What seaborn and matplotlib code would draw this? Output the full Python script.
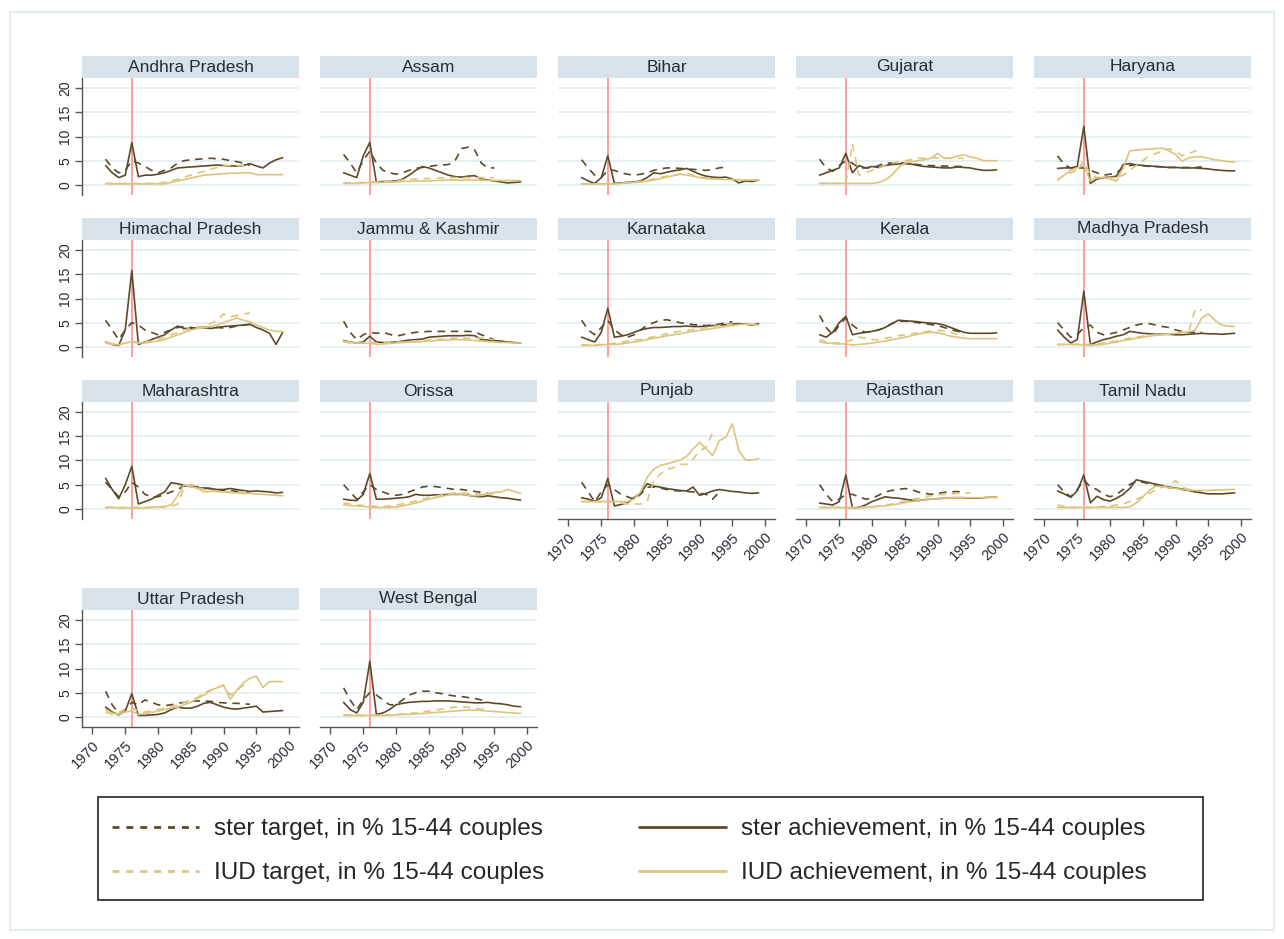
import numpy as np
import pandas as pd
import matplotlib
matplotlib.use("Agg")
import matplotlib.pyplot as plt
import seaborn as sns
from matplotlib.lines import Line2D
from matplotlib.patches import Rectangle

years = list(range(1972, 2000))

states = ["Andhra Pradesh", "Assam", "Bihar", "Gujarat", "Haryana",
          "Himachal Pradesh", "Jammu & Kashmir", "Karnataka", "Kerala", "Madhya Pradesh",
          "Maharashtra", "Orissa", "Punjab", "Rajasthan", "Tamil Nadu",
          "Uttar Pradesh", "West Bengal"]

series_labels = ["ster target, in % 15-44 couples",
                 "ster achievement, in % 15-44 couples",
                 "IUD target, in % 15-44 couples",
                 "IUD achievement, in % 15-44 couples"]

ster_target = {
    "Andhra Pradesh": [5.3, 3.5, 2.5, 3, 5, 4.5, 3.8, 3, 2.5, 3, 3.5, 4.5, 5, 5.2, 5.3, 5.4, 5.5, 5.4, 5.3, 5, 4.8, 4.5, 4.0],
    "Assam": [6.3, 4.5, 2.5, 5, 7, 4.5, 3, 2.5, 2.2, 2.5, 3, 3.4, 3.6, 3.8, 4, 4.1, 4.2, 5, 7.5, 7.8, 7.2, 4.5, 3.5, 3.5],
    "Bihar": [5.2, 3.5, 2.0, 1.5, 3, 3, 2.5, 2.2, 2.0, 2.2, 2.5, 3.0, 3.3, 3.5, 3.5, 3.4, 3.3, 3.2, 3.1, 3.0, 3.2, 3.5, 3.7],
    "Gujarat": [5.3, 3.5, 2.8, 4, 5, 4.5, 3.5, 3.5, 3.5, 4.0, 4.5, 4.5, 4.6, 4.5, 4.3, 4.2, 4.0, 4.0, 3.9, 3.9, 3.8, 3.8, 3.8],
    "Haryana": [6.0, 4.2, 3.5, 3.5, 3.5, 3.0, 2.5, 2.0, 2.2, 2.5, 3.5, 4.0, 4.2, 4.0, 3.8, 3.8, 3.7, 3.6, 3.6, 3.6, 3.6, 3.6, 3.7],
    "Himachal Pradesh": [5.5, 3.5, 1.5, 3.5, 5, 4.5, 3.5, 3.0, 2.5, 3, 3.5, 4, 4.2, 4.0, 3.8, 4.0, 4.1, 4.0, 3.9, 4.0, 4.3, 4.5, 4.6],
    "Jammu & Kashmir": [5.3, 3, 1.5, 2.5, 3, 2.8, 3, 2.6, 2.2, 2.5, 2.8, 3.0, 3.1, 3.2, 3.2, 3.2, 3.2, 3.2, 3.2, 3.2, 3.1, 2.5, 2.0, 1.5],
    "Karnataka": [5.5, 3.5, 2.5, 4, 5.5, 3.5, 2.5, 2.0, 2.5, 3.5, 4.5, 5.0, 5.5, 5.6, 5.3, 5.0, 4.8, 4.6, 4.5, 4.4, 4.5, 4.7, 5.0, 5.2],
    "Kerala": [6.5, 4, 2.5, 4.5, 6, 4.5, 3.5, 3.0, 3.2, 3.5, 4.0, 4.8, 5.3, 5.3, 5.2, 5.0, 4.8, 4.6, 4.4, 4.0, 3.6, 3.2, 3.0],
    "Madhya Pradesh": [5, 3.5, 2, 2.5, 4, 4.5, 3.0, 2.5, 2.7, 3.0, 3.5, 4.0, 4.5, 4.8, 4.8, 4.5, 4.2, 4.0, 3.5, 3.2, 3.0, 3.0, 3.0],
    "Maharashtra": [5.5, 4, 2.5, 3.5, 5.5, 4.5, 3, 2.5, 2.5, 3, 3.5, 4, 4.8, 4.8, 4.5, 4.3, 4.2, 4.0, 3.8, 3.8, 3.6, 3.5, 3.5],
    "Orissa": [5, 3.5, 2, 3.5, 5, 4, 3.5, 3.0, 2.8, 3.0, 3.5, 4.0, 4.5, 4.7, 4.6, 4.4, 4.2, 4.0, 4.0, 3.8, 3.6, 3.4, 3.2],
    "Punjab": [5.5, 3.5, 1.5, 3.5, 5, 4, 3.0, 2.5, 2.0, 3.0, 4.5, 4.5, 4.3, 4.0, 3.8, 3.7, 3.6, 3.5, 3.2, 3.0, 2.0, 3.5],
    "Rajasthan": [5, 3, 1.5, 2, 3, 3, 2.5, 2.0, 2.2, 2.8, 3.5, 3.8, 4.0, 4.2, 4.0, 3.5, 3.2, 3.0, 3.2, 3.4, 3.5, 3.6, 3.3],
    "Tamil Nadu": [5, 3.5, 2.5, 4, 6, 4.5, 4, 3.0, 2.5, 3.0, 4.0, 5.0, 5.7, 5.5, 5.2, 4.9, 4.6, 4.4, 4.2, 4.0, 3.8, 3.6, 3.5],
    "Uttar Pradesh": [5.3, 2.5, 0.8, 1.5, 3.0, 2.5, 3.5, 3.0, 2.5, 2.3, 2.5, 2.8, 3.0, 3.2, 3.3, 3.3, 3.2, 3.0, 2.9, 2.8, 2.8, 2.7, 2.6],
    "West Bengal": [6, 3.5, 1.5, 3.5, 5, 4.5, 3.5, 2.5, 2.5, 3.5, 4.5, 5.0, 5.3, 5.3, 5.0, 4.8, 4.5, 4.3, 4.2, 4.0, 3.8, 3.5, 3.4],
}

ster_achievement = {
    "Andhra Pradesh": [4, 2.5, 1.5, 2, 8.7, 1.7, 2, 2, 2.2, 2.5, 3, 3.5, 3.6, 3.7, 3.8, 3.9, 4.0, 4.1, 4.0, 3.9, 3.9, 4.0, 4.4, 3.9, 3.5, 4.5, 5.2, 5.6],
    "Assam": [2.5, 2, 1.5, 6, 8.8, 0.5, 0.7, 0.7, 0.8, 1.2, 2, 3, 3.8, 3.5, 3, 2.5, 2, 1.7, 1.6, 1.8, 1.9, 1.2, 1.0, 0.8, 0.6, 0.4, 0.5, 0.6],
    "Bihar": [1.5, 0.8, 0.3, 1.5, 6, 0.3, 0.4, 0.5, 0.6, 0.8, 1.5, 2.5, 2.3, 2.6, 2.9, 3.1, 3.4, 2.8, 2.2, 1.8, 1.6, 1.5, 1.6, 1.2, 0.4, 0.8, 0.7, 1.0],
    "Gujarat": [2, 2.5, 3, 3.5, 6.5, 2.5, 4, 3.5, 3.8, 3.6, 4.0, 4.2, 4.3, 4.4, 4.3, 4.0, 3.8, 3.7, 3.6, 3.5, 3.5, 3.7, 3.6, 3.5, 3.2, 3.0, 3.0, 3.1],
    "Haryana": [3.4, 3.5, 3.5, 3.8, 12.1, 0.3, 1.2, 1.5, 1.6, 1.8, 4.2, 4.4, 4.1, 4.0, 3.9, 3.8, 3.7, 3.6, 3.6, 3.5, 3.5, 3.5, 3.4, 3.3, 3.1, 3.0, 2.9, 2.9],
    "Himachal Pradesh": [1, 0.5, 0.3, 3.5, 15.8, 0.5, 1, 1.5, 2, 2.5, 3.5, 4.3, 3.8, 3.8, 4.0, 4.0, 3.8, 4.0, 4.2, 4.3, 4.4, 4.5, 4.7, 4.0, 3.5, 2.8, 0.5, 3.0],
    "Jammu & Kashmir": [1.3, 1.0, 0.8, 1.0, 2.2, 1.0, 0.9, 0.9, 1.0, 1.2, 1.4, 1.5, 1.6, 2.0, 2.1, 2.2, 2.3, 2.3, 2.3, 2.4, 2.3, 1.5, 1.4, 1.3, 1.2, 1.0, 0.9, 0.8],
    "Karnataka": [2, 1.5, 1, 3, 8, 2, 2.2, 2.5, 3, 3.5, 3.8, 4.0, 4.0, 4.1, 4.2, 4.2, 4.3, 4.2, 4.2, 4.3, 4.4, 4.5, 4.6, 4.7, 4.8, 4.7, 4.5, 4.8],
    "Kerala": [2.5, 2, 3, 5, 6.3, 2.5, 2.8, 3.0, 3.2, 3.5, 4.0, 4.8, 5.5, 5.4, 5.3, 5.2, 5.0, 4.9, 4.8, 4.5, 4.0, 3.5, 3.0, 2.8, 2.8, 2.8, 2.8, 2.9],
    "Madhya Pradesh": [3.5, 2, 0.8, 1.5, 11.5, 0.5, 1, 1.5, 1.8, 2.2, 2.5, 3.2, 3.0, 2.8, 2.7, 2.6, 2.6, 2.6, 2.5, 2.5, 2.6, 2.7, 2.8, 2.7, 2.7, 2.6, 2.7, 2.8],
    "Maharashtra": [6.3, 4, 2.1, 5, 8.8, 1.0, 1.5, 2, 2.8, 3.5, 5.4, 5.2, 4.8, 4.6, 4.4, 4.3, 4.2, 4.0, 4.0, 4.2, 4.0, 3.8, 3.6, 3.7, 3.6, 3.5, 3.3, 3.4],
    "Orissa": [2, 1.8, 1.7, 3, 7.3, 2, 2.0, 2.1, 2.2, 2.3, 2.5, 3.0, 2.8, 2.8, 2.9, 2.9, 3.0, 3.0, 3.0, 2.8, 2.6, 2.5, 2.7, 2.5, 2.3, 2.2, 2.0, 1.8],
    "Punjab": [2.3, 2.0, 1.6, 2.3, 6.3, 0.6, 0.9, 1.25, 2.3, 3.3, 5.2, 4.7, 4.5, 4.2, 4.0, 3.8, 3.7, 4.5, 2.8, 3.2, 3.7, 4.0, 3.8, 3.6, 3.5, 3.3, 3.2, 3.3],
    "Rajasthan": [1.2, 1.0, 0.8, 1.5, 7, 0.2, 0.3, 0.8, 1.5, 2.0, 2.5, 2.3, 2.2, 2.0, 1.8, 1.7, 1.9, 2.0, 2.1, 2.2, 2.3, 2.3, 2.3, 2.2, 2.2, 2.3, 2.4, 2.4],
    "Tamil Nadu": [3.7, 3.1, 2.4, 3.7, 7.0, 1.25, 2.6, 1.9, 1.6, 2.2, 3.0, 4.2, 6.0, 5.7, 5.4, 5.1, 4.8, 4.5, 4.3, 4.1, 3.8, 3.5, 3.3, 3.1, 3.1, 3.1, 3.2, 3.3],
    "Uttar Pradesh": [2, 1, 0.4, 1.2, 4.8, 0.3, 0.3, 0.4, 0.5, 0.8, 1.5, 2.0, 1.8, 1.8, 2.2, 2.8, 3.0, 2.5, 2.0, 1.7, 1.6, 1.8, 2.0, 2.2, 1.0, 1.1, 1.2, 1.3],
    "West Bengal": [3, 1.5, 0.8, 3, 11.5, 0.5, 0.8, 1.5, 2.5, 2.8, 3.0, 3.1, 3.2, 3.2, 3.3, 3.3, 3.3, 3.2, 3.1, 3.0, 2.9, 2.9, 3.0, 2.8, 2.7, 2.5, 2.2, 2.1],
}

iud_target = {
    "Andhra Pradesh": [0.3, 0.3, 0.3, 0.3, 0.3, 0.3, 0.3, 0.3, 0.4, 0.5, 0.8, 1.2, 1.6, 2.0, 2.4, 2.8, 3.2, 3.6, 4.0, 4.0, 4.0, 4.0, 3.8],
    "Assam": [0.4, 0.4, 0.4, 0.5, 0.6, 0.6, 0.7, 0.8, 0.9, 1.0, 1.1, 1.2, 1.3, 1.3, 1.4, 1.4, 1.5, 1.5, 1.5, 1.5, 1.5, 1.5, 1.5, 1.5],
    "Bihar": [0.2, 0.2, 0.2, 0.2, 0.2, 0.2, 0.3, 0.4, 0.5, 0.7, 0.9, 1.2, 1.5, 1.8, 2.0, 2.2, 2.4, 2.0, 1.6, 1.4, 1.3, 1.2, 1.2],
    "Gujarat": [0.3, 0.3, 0.3, 0.3, 0.3, 8.5, 2.0, 2.5, 3.0, 3.5, 4.0, 4.5, 4.8, 5.0, 5.2, 5.5, 5.5, 5.6, 5.6, 5.5, 5.5, 5.5, 5.5],
    "Haryana": [1, 2, 2.5, 3, 5, 2, 1.5, 1.5, 1.5, 1.5, 2, 3, 4, 5, 6, 6.5, 7, 7.5, 7, 6, 6.5, 7, 7.2],
    "Himachal Pradesh": [0.8, 0.5, 0.4, 0.8, 1.2, 0.8, 1, 1.2, 1.5, 2, 2.5, 3, 3.5, 3.8, 4.0, 4.3, 4.8, 5.5, 6.8, 6.2, 6.5, 6.8, 7.0],
    "Jammu & Kashmir": [1.0, 0.8, 0.7, 0.8, 1.0, 0.8, 0.8, 0.9, 1.0, 1.0, 1.1, 1.2, 1.3, 1.4, 1.5, 1.6, 1.7, 1.8, 1.8, 1.8, 1.8, 1.8, 1.6, 1.5],
    "Karnataka": [0.4, 0.4, 0.4, 0.5, 0.6, 0.7, 0.9, 1.2, 1.4, 1.5, 1.8, 2.1, 2.4, 2.7, 3.0, 3.2, 3.4, 3.6, 3.8, 4.0, 4.2, 4.4, 4.6, 4.7],
    "Kerala": [1.5, 1.0, 0.8, 0.8, 1.0, 1.5, 2.0, 1.8, 1.5, 1.5, 1.8, 2.0, 2.3, 2.5, 2.7, 2.9, 3.1, 3.3, 3.4, 3.3, 3.0, 2.5, 2.2],
    "Madhya Pradesh": [0.5, 0.5, 0.5, 0.5, 0.5, 0.5, 0.6, 0.8, 1.0, 1.2, 1.5, 1.8, 2.0, 2.2, 2.4, 2.5, 2.6, 2.7, 2.8, 3.0, 3.2, 7.8, 7.6],
    "Maharashtra": [0.3, 0.3, 0.3, 0.3, 0.3, 0.3, 0.3, 0.3, 0.3, 0.4, 0.5, 1.0, 4.5, 5.0, 4.5, 4.0, 3.8, 3.6, 3.5, 3.5, 3.5, 3.5, 3.5],
    "Orissa": [1.2, 1.0, 0.8, 0.7, 0.6, 0.5, 0.5, 0.6, 0.8, 1.0, 1.3, 1.6, 2.0, 2.3, 2.6, 2.9, 3.1, 3.3, 3.3, 3.2, 3.1, 3.0, 3.0, 3.2],
    "Punjab": [1.5, 1.5, 1.5, 1.5, 1.5, 1.5, 1.2, 1.0, 1.0, 1.0, 1.5, 5.8, 7.2, 8.2, 8.5, 9.2, 9.2, 10.3, 12.0, 12.7, 15.8],
    "Rajasthan": [0.3, 0.3, 0.3, 0.3, 0.3, 0.3, 0.3, 0.4, 0.5, 0.6, 0.8, 1.0, 1.3, 1.6, 1.9, 2.2, 2.5, 2.7, 2.9, 3.0, 3.1, 3.2, 3.2, 3.3],
    "Tamil Nadu": [0.8, 0.5, 0.3, 0.3, 0.3, 0.3, 0.4, 0.5, 0.6, 0.8, 1.0, 1.5, 2.0, 2.5, 3.2, 4.0, 4.5, 5.0, 5.8, 4.5, 4.0, 3.8, 3.7],
    "Uttar Pradesh": [1.0, 0.5, 0.8, 1.5, 1.8, 1.2, 1.0, 1.2, 1.5, 1.8, 2.0, 2.5, 3.0, 3.5, 4.0, 5.0, 5.5, 6.0, 6.5, 4.5, 5.5, 6.5, 7.0],
    "West Bengal": [0.4, 0.3, 0.3, 0.3, 0.3, 0.3, 0.3, 0.4, 0.5, 0.6, 0.7, 0.8, 1.0, 1.2, 1.4, 1.6, 1.8, 2.0, 2.0, 2.0, 1.8, 1.6, 1.5],
}

iud_achievement = {
    "Andhra Pradesh": [0.2, 0.2, 0.2, 0.2, 0.2, 0.2, 0.2, 0.2, 0.2, 0.2, 0.5, 0.8, 1.1, 1.4, 1.7, 2.0, 2.1, 2.2, 2.3, 2.4, 2.4, 2.5, 2.5, 2.1, 2.1, 2.1, 2.1, 2.1],
    "Assam": [0.3, 0.3, 0.3, 0.4, 0.5, 0.5, 0.5, 0.6, 0.6, 0.7, 0.7, 0.8, 0.8, 0.8, 0.9, 0.9, 1.0, 1.0, 1.0, 1.0, 1.0, 1.0, 0.9, 0.9, 0.9, 0.9, 0.9, 0.9],
    "Bihar": [0.2, 0.2, 0.2, 0.2, 0.2, 0.2, 0.3, 0.4, 0.5, 0.6, 0.8, 1.0, 1.3, 1.6, 1.9, 2.2, 2.0, 1.8, 1.5, 1.3, 1.2, 1.2, 1.1, 1.1, 1.0, 1.0, 1.0, 1.0],
    "Gujarat": [0.3, 0.3, 0.3, 0.3, 0.3, 0.3, 0.3, 0.3, 0.3, 0.5, 1.0, 2.0, 3.5, 4.5, 4.8, 5.0, 5.2, 5.5, 6.5, 5.5, 5.5, 6.0, 6.2, 5.8, 5.5, 5.0, 5.0, 5.0],
    "Haryana": [1.0, 2.0, 3.0, 3.5, 4.0, 0.8, 1.5, 1.5, 1.2, 0.8, 3.5, 7.0, 7.2, 7.3, 7.4, 7.5, 7.6, 7.0, 6.3, 4.9, 5.6, 5.8, 5.8, 5.5, 5.2, 5.0, 4.8, 4.7],
    "Himachal Pradesh": [1.0, 0.6, 0.4, 0.8, 1.0, 0.8, 0.8, 1.0, 1.2, 1.5, 2.0, 2.5, 3.0, 3.5, 3.8, 4.0, 4.2, 4.5, 5.0, 5.5, 6.0, 5.5, 5.2, 4.5, 4.0, 3.5, 3.2, 3.2],
    "Jammu & Kashmir": [1.2, 1.0, 0.8, 0.7, 0.8, 0.5, 0.6, 0.7, 0.8, 0.9, 1.0, 1.0, 1.1, 1.2, 1.3, 1.4, 1.4, 1.5, 1.5, 1.4, 1.3, 1.2, 1.1, 1.0, 0.9, 0.9, 0.8, 0.8],
    "Karnataka": [0.3, 0.3, 0.3, 0.4, 0.5, 0.5, 0.6, 0.8, 1.0, 1.2, 1.5, 1.8, 2.0, 2.3, 2.5, 2.7, 3.0, 3.2, 3.4, 3.6, 3.8, 4.0, 4.2, 4.4, 4.6, 4.7, 4.6, 4.5],
    "Kerala": [1.0, 0.8, 0.7, 0.6, 0.6, 0.4, 0.5, 0.6, 0.8, 1.0, 1.2, 1.5, 1.7, 2.0, 2.3, 2.6, 2.9, 3.0, 2.9, 2.6, 2.2, 2.0, 1.8, 1.7, 1.7, 1.7, 1.7, 1.7],
    "Madhya Pradesh": [0.5, 0.5, 0.5, 0.5, 0.4, 0.3, 0.4, 0.5, 0.8, 1.0, 1.3, 1.5, 1.8, 2.0, 2.2, 2.4, 2.5, 2.7, 2.8, 3.0, 3.1, 3.5, 6.0, 6.8, 5.5, 4.5, 4.3, 4.2],
    "Maharashtra": [0.3, 0.3, 0.2, 0.2, 0.2, 0.2, 0.2, 0.3, 0.4, 0.5, 0.8, 2.8, 5.0, 4.6, 4.3, 3.5, 3.6, 3.6, 3.5, 3.4, 3.3, 3.2, 3.2, 3.1, 3.0, 2.9, 2.8, 2.7],
    "Orissa": [0.8, 0.7, 0.6, 0.5, 0.4, 0.3, 0.3, 0.3, 0.4, 0.6, 0.9, 1.2, 1.6, 2.0, 2.3, 2.6, 2.9, 3.1, 3.0, 2.8, 2.7, 2.8, 3.2, 3.4, 3.5, 4.0, 3.6, 3.2],
    "Punjab": [1.5, 1.5, 1.5, 1.5, 1.5, 1.5, 1.5, 1.5, 2.0, 3.5, 6.5, 8.2, 9.0, 9.3, 9.7, 10.1, 10.8, 12.4, 13.75, 12.4, 11.0, 14.1, 14.8, 17.6, 12.0, 10.1, 10.1, 10.4],
    "Rajasthan": [0.3, 0.3, 0.3, 0.3, 0.2, 0.2, 0.2, 0.3, 0.4, 0.5, 0.6, 0.8, 1.0, 1.3, 1.5, 1.7, 1.9, 2.0, 2.1, 2.2, 2.3, 2.3, 2.3, 2.3, 2.3, 2.3, 2.4, 2.4],
    "Tamil Nadu": [0.3, 0.3, 0.3, 0.3, 0.3, 0.3, 0.3, 0.3, 0.3, 0.3, 0.3, 0.4, 1.2, 2.5, 3.8, 4.7, 4.6, 4.4, 4.2, 4.0, 3.9, 3.8, 3.8, 3.8, 3.9, 3.9, 4.0, 4.0],
    "Uttar Pradesh": [1.5, 0.8, 0.5, 1.0, 1.2, 0.5, 0.7, 0.9, 1.2, 1.5, 1.8, 2.0, 2.5, 3.0, 3.8, 4.5, 5.5, 6.0, 6.6, 3.6, 5.5, 7.0, 8.0, 8.4, 6.1, 7.3, 7.3, 7.3],
    "West Bengal": [0.3, 0.3, 0.3, 0.3, 0.3, 0.3, 0.3, 0.3, 0.4, 0.5, 0.5, 0.6, 0.7, 0.8, 0.9, 1.0, 1.1, 1.2, 1.3, 1.4, 1.4, 1.3, 1.2, 1.1, 1.0, 0.9, 0.8, 0.7],
}

x_ticks = [1970, 1975, 1980, 1985, 1990, 1995, 2000]
y_ticks = [0, 5, 10, 15, 20]
emergency_year = 1976

# ---------------- build long table ----------------
def pad(vals):
    vals = list(vals)
    assert len(vals) <= len(years)
    return vals + [np.nan] * (len(years) - len(vals))

rows = []
for s in states:
    for lab, src in zip(series_labels, [ster_target, ster_achievement, iud_target, iud_achievement]):
        for y, v in zip(years, pad(src[s])):
            rows.append((s, y, lab, v))
df = pd.DataFrame(rows, columns=["state", "year", "series", "value"]).dropna()

# ---------------- style ----------------
sns.set_style("white")
plt.rcParams['font.family'] = ['Liberation Sans', 'DejaVu Sans']

STER = "#5c4a2a"
IUD = "#dcc47c"
palette = {series_labels[0]: STER, series_labels[1]: STER,
           series_labels[2]: IUD, series_labels[3]: IUD}
dashes = {series_labels[0]: (4.5, 3.5), series_labels[1]: "",
          series_labels[2]: (4.5, 3.5), series_labels[3]: ""}

W, H = 1284, 939
fig = plt.figure(figsize=(W / 100, H / 100), dpi=100)

def fx(px):
    return px / W

def fy(py):
    return 1 - py / H

col_left = [82, 320, 558, 796, 1034]
panel_w = 217
row_top = [78, 240, 402, 610]
panel_h = 117
strip_h = 22
ncol = 5
last_row_of_col = {0: 3, 1: 3, 2: 2, 3: 2, 4: 2}

GRID = "#e4eef0"
AXC = "#555555"
TXT = "#2a2a35"

for i, s in enumerate(states):
    r, c = divmod(i, ncol)
    l = col_left[c]
    t = row_top[r]
    ax = fig.add_axes([fx(l), fy(t + panel_h), fx(panel_w), panel_h / H])
    sax = fig.add_axes([fx(l), fy(t), fx(panel_w), strip_h / H])
    sax.set_facecolor("#d7e3e9")
    sax.set_xticks([]); sax.set_yticks([])
    for sp in sax.spines.values():
        sp.set_visible(False)
    sax.text(0.5, 0.5, s, ha="center", va="center", fontsize=12.5, color=TXT,
             transform=sax.transAxes)

    for yv in y_ticks:
        ax.axhline(yv, color=GRID, lw=1.3, zorder=0)
    ax.axvline(emergency_year, color="#ff9d9d", lw=1.4, zorder=1)

    sub = df[df.state == s]
    sns.lineplot(data=sub, x="year", y="value", hue="series", style="series",
                 hue_order=series_labels, style_order=series_labels,
                 palette=palette, dashes=dashes, estimator=None, sort=True,
                 linewidth=1.2, legend=False, ax=ax, zorder=2)

    ax.set_xlim(1968.4, 2001.5)
    ax.set_ylim(-2.1, 22.1)
    ax.set_xlabel(""); ax.set_ylabel("")
    ax.set_facecolor("white")
    for sp in ["top", "right"]:
        ax.spines[sp].set_visible(False)

    if c == 0:
        ax.spines["left"].set_color(AXC)
        ax.spines["left"].set_linewidth(1.0)
        ax.set_yticks(y_ticks)
        ax.set_yticklabels([str(v) for v in y_ticks], rotation=90, va="center")
        ax.tick_params(axis="y", direction="out", length=5, width=1, color=AXC,
                       labelsize=10, labelcolor=TXT, pad=2, left=True)
    else:
        ax.spines["left"].set_visible(False)
        ax.set_yticks([])

    if r == last_row_of_col[c]:
        ax.spines["bottom"].set_color(AXC)
        ax.spines["bottom"].set_linewidth(1.0)
        ax.set_xticks(x_ticks)
        ax.set_xticklabels([str(v) for v in x_ticks], rotation=45, ha="right",
                           rotation_mode="anchor")
        ax.tick_params(axis="x", direction="out", length=5, width=1, color=AXC,
                       labelsize=10.5, labelcolor=TXT, pad=3, bottom=True)
    else:
        ax.spines["bottom"].set_visible(False)
        ax.set_xticks([])

# outer frame of graph region
fig.patches.append(Rectangle((fx(10), fy(930)), fx(1264), 918 / H, transform=fig.transFigure,
                             fill=False, edgecolor="#e3ecef", lw=1.5))

# legend box
fig.patches.append(Rectangle((fx(98), fy(900)), fx(1105), 103 / H, transform=fig.transFigure,
                             fill=False, edgecolor="#222222", lw=1.2, zorder=5))

handles = [Line2D([], [], color=STER, lw=2.0, dashes=(2.5, 2.5)),
           Line2D([], [], color=IUD, lw=2.0, dashes=(2.5, 2.5)),
           Line2D([], [], color=STER, lw=2.0),
           Line2D([], [], color=IUD, lw=2.0)]
labels = [series_labels[0], series_labels[2], series_labels[1], series_labels[3]]
fs = 17.5
fpx = fs * 100 / 72
fig.legend(handles, labels, ncol=2, frameon=False, loc="upper left",
           bbox_to_anchor=(fx(112), fy(818)), borderpad=0, borderaxespad=0,
           fontsize=fs, handlelength=87 / fpx, handletextpad=15 / fpx,
           columnspacing=95 / fpx, labelspacing=0.92)

fig.savefig("out.png", dpi=100, facecolor="white")
